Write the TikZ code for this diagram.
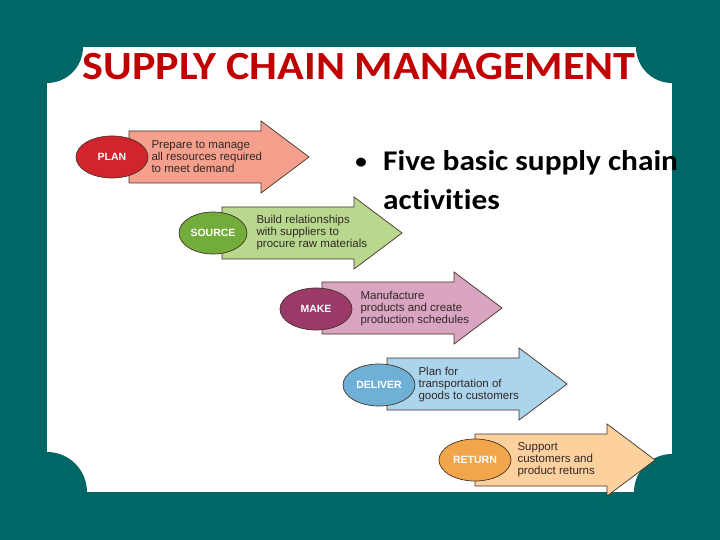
\documentclass[tikz,border=0pt]{standalone}
\usepackage{fontspec}
\setmainfont{Carlito}[FakeStretch=1.1, Ligatures=NoCommon]
\newfontfamily\stagefont{Liberation Sans}
\usetikzlibrary{positioning,shapes.geometric}

\definecolor{slideteal}{RGB}{0,102,102}
\definecolor{titlered}{RGB}{192,0,0}
\definecolor{arrowline}{RGB}{70,50,40}
\definecolor{desctext}{RGB}{50,40,40}
\definecolor{planfill}{RGB}{244,160,140}
\definecolor{planoval}{RGB}{209,36,44}
\definecolor{sourcefill}{RGB}{184,216,142}
\definecolor{sourceoval}{RGB}{114,172,58}
\definecolor{makefill}{RGB}{217,165,192}
\definecolor{makeoval}{RGB}{155,58,105}
\definecolor{deliverfill}{RGB}{171,213,236}
\definecolor{deliveroval}{RGB}{111,177,214}
\definecolor{returnfill}{RGB}{253,209,158}
\definecolor{returnoval}{RGB}{242,165,74}

\tikzset{
  stagearrow/.pic={
    \draw[pic actions] (0,-26) -- (132,-26) -- (132,-36) -- (180,0)
      -- (132,36) -- (132,26) -- (0,26) -- cycle;
  },
  arrowbody/.style={draw=arrowline, line width=0.7pt},
  stage/.style={ellipse, draw=arrowline, line width=0.7pt,
    minimum width=72pt, minimum height=42pt, inner sep=0pt, text=white,
    font=\stagefont\bfseries\fontsize{10.5}{12}\selectfont},
  stagetext/.style={align=left, inner sep=0pt, text=desctext,
    font=\stagefont\fontsize{11.5}{12}\selectfont},
  slidetext/.style={inner sep=0pt, font=\bfseries\fontsize{28.5}{34}\selectfont}
}

\begin{document}
\begin{tikzpicture}[x=1pt,y=-1pt]
  \useasboundingbox (0,0) rectangle (720,540);
  \fill[slideteal] (0,0) rectangle (720,540);
  \fill[white] (47,47) rectangle (672,492);
  \fill[slideteal] (47,47) circle (36pt);
  \fill[slideteal] (672,47) circle (36pt);
  \fill[slideteal] (47,492) circle (40pt);
  \fill[slideteal] (672,492) circle (38pt);

  \node[inner sep=0pt, anchor=base, text=titlered,
    font=\bfseries\fontsize{40}{48}\selectfont] (title) at (359,80)
    {SUPPLY CHAIN MANAGEMENT};

  \node[inner sep=0pt, anchor=base, font=\bfseries\fontsize{21}{24}\selectfont]
    (dot) at (361,169) {\textbullet};
  \node[slidetext, anchor=base west] (point) at (383,171) {Five basic supply chain};
  \node[slidetext, anchor=base west] (pointmore) at (383,210) {activities};

  \pic[arrowbody, fill=planfill] at (129,157) {stagearrow};
  \node[stage, fill=planoval] (plan) at (112,157) {PLAN};
  \node[stagetext, right=3pt of plan] (plantext)
    {Prepare to manage\\all resources required\\to meet demand};

  \pic[arrowbody, fill=sourcefill] at (222,233) {stagearrow};
  \node[stage, fill=sourceoval, minimum width=68pt] (source) at (213,233) {SOURCE};
  \node[stagetext, right=9pt of source] (sourcetext)
    {Build relationships\\with suppliers to\\procure raw materials};

  \pic[arrowbody, fill=makefill] at (322,308) {stagearrow};
  \node[stage, fill=makeoval] (make) at (316,309) {MAKE};
  \node[stagetext, right=8pt of make] (maketext)
    {Manufacture\\products and create\\production schedules};

  \pic[arrowbody, fill=deliverfill] at (387,384) {stagearrow};
  \node[stage, fill=deliveroval] (deliver) at (379,385) {DELIVER};
  \node[stagetext, right=3pt of deliver] (delivertext)
    {Plan for\\transportation of\\goods to customers};

  \pic[arrowbody, fill=returnfill] at (475,460) {stagearrow};
  \node[stage, fill=returnoval] (return) at (475,460) {RETURN};
  \node[stagetext, right=6pt of return] (returntext)
    {Support\\customers and\\product returns};
\end{tikzpicture}
\end{document}
